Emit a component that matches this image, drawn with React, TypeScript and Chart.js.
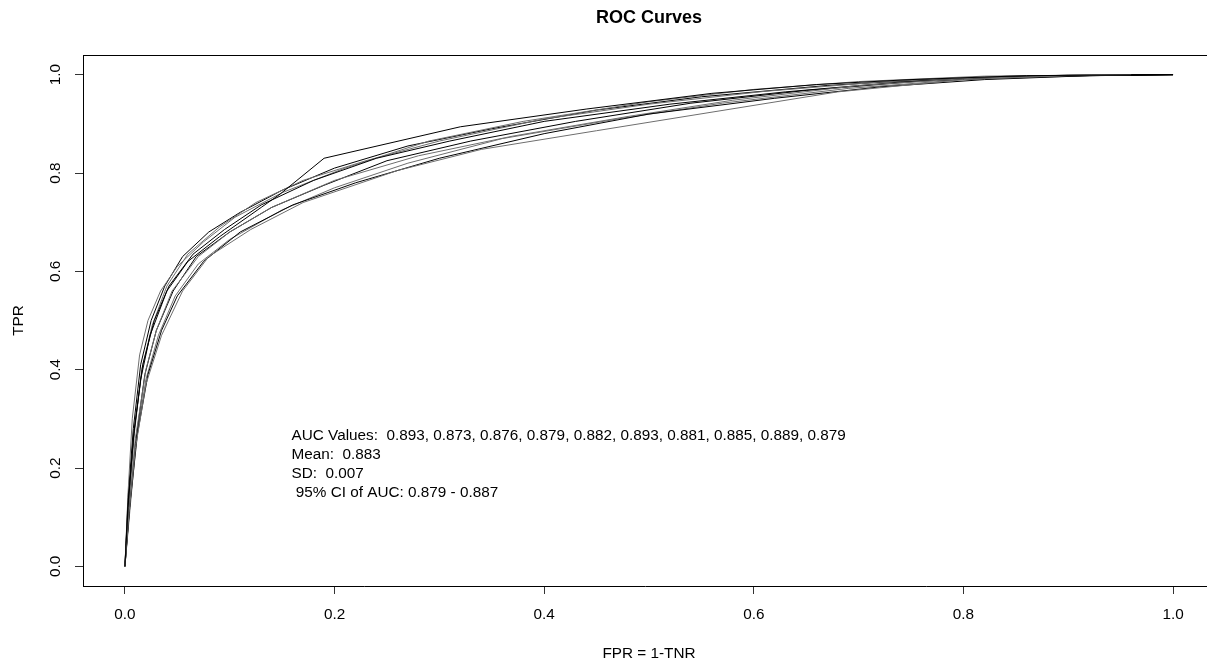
import React, { useEffect, useRef } from "react";
import { Chart, registerables } from "chart.js";

Chart.register(...registerables);

// ROC curves from ten resampling runs: false positive rate / true positive rate
const FPR_1 = [0, 0.003, 0.008, 0.015, 0.024, 0.04, 0.06, 0.09, 0.13, 0.148, 0.19, 0.32, 0.44, 0.56, 0.66, 0.75, 0.86, 1];
const TPR_1 = [0, 0.12, 0.26, 0.38, 0.47, 0.56, 0.62, 0.67, 0.73, 0.757, 0.83, 0.894, 0.93, 0.962, 0.98, 0.99, 0.998, 1];

const FPR_2 = [0, 0.004, 0.01, 0.02, 0.035, 0.055, 0.08, 0.12, 0.17, 0.26, 0.34, 0.45, 0.68, 0.8, 0.9, 0.96];
const TPR_2 = [0, 0.11, 0.24, 0.37, 0.47, 0.56, 0.63, 0.685, 0.74, 0.805, 0.848, 0.886, 0.965, 0.99, 0.998, 1];

const FPR_3 = [0, 0.005, 0.012, 0.022, 0.035, 0.05, 0.075, 0.11, 0.16, 0.22, 0.3, 0.4, 0.5, 0.62, 0.72, 0.82, 0.92, 1];
const TPR_3 = [0, 0.13, 0.27, 0.39, 0.48, 0.55, 0.62, 0.68, 0.735, 0.78, 0.83, 0.88, 0.92, 0.952, 0.975, 0.99, 0.998, 1];

const FPR_4 = [0, 0.004, 0.01, 0.02, 0.03, 0.045, 0.07, 0.1, 0.14, 0.2, 0.28, 0.37, 0.48, 0.58, 0.7, 0.81, 0.96];
const TPR_4 = [0, 0.12, 0.26, 0.4, 0.48, 0.56, 0.63, 0.68, 0.73, 0.785, 0.835, 0.875, 0.915, 0.948, 0.978, 0.993, 1];

const FPR_5 = [0, 0.003, 0.009, 0.017, 0.028, 0.042, 0.065, 0.095, 0.13, 0.18, 0.24, 0.31, 0.4, 0.52, 0.63, 0.74, 0.85, 1];
const TPR_5 = [0, 0.13, 0.28, 0.41, 0.5, 0.57, 0.635, 0.685, 0.735, 0.785, 0.83, 0.865, 0.905, 0.94, 0.965, 0.985, 0.996, 1];

const FPR_6 = [0, 0.003, 0.007, 0.014, 0.022, 0.034, 0.05, 0.075, 0.105, 0.15, 0.21, 0.29, 0.38, 0.5, 0.6, 0.7, 0.82, 0.96];
const TPR_6 = [0, 0.15, 0.3, 0.43, 0.5, 0.56, 0.61, 0.66, 0.71, 0.76, 0.81, 0.865, 0.905, 0.945, 0.97, 0.986, 0.997, 1];

const FPR_7 = [0, 0.004, 0.01, 0.019, 0.03, 0.046, 0.068, 0.1, 0.14, 0.19, 0.25, 0.33, 0.43, 0.54, 0.65, 0.76, 0.88, 1];
const TPR_7 = [0, 0.11, 0.25, 0.39, 0.48, 0.56, 0.63, 0.68, 0.73, 0.775, 0.825, 0.865, 0.905, 0.942, 0.968, 0.987, 0.998, 1];

const FPR_8 = [0, 0.004, 0.009, 0.016, 0.026, 0.04, 0.06, 0.09, 0.125, 0.17, 0.23, 0.3, 0.4, 0.5, 0.61, 0.72, 0.84, 0.96];
const TPR_8 = [0, 0.13, 0.27, 0.4, 0.49, 0.57, 0.635, 0.69, 0.74, 0.785, 0.825, 0.865, 0.91, 0.94, 0.966, 0.985, 0.997, 1];

const FPR_9 = [0, 0.003, 0.008, 0.015, 0.025, 0.038, 0.055, 0.08, 0.11, 0.15, 0.2, 0.27, 0.35, 0.45, 0.55, 0.67, 0.78, 0.9, 1];
const TPR_9 = [0, 0.14, 0.28, 0.41, 0.5, 0.57, 0.63, 0.68, 0.72, 0.765, 0.81, 0.855, 0.89, 0.928, 0.955, 0.978, 0.992, 0.999, 1];

const FPR_10 = [0, 0.005, 0.011, 0.02, 0.032, 0.048, 0.07, 0.1, 0.15, 0.2, 0.27, 0.36, 0.47, 0.57, 0.69, 0.8, 0.92, 1];
const TPR_10 = [0, 0.12, 0.26, 0.38, 0.47, 0.55, 0.615, 0.665, 0.725, 0.77, 0.82, 0.87, 0.91, 0.942, 0.972, 0.99, 0.998, 1];

const CURVES: [number[], number[]][] = [
  [FPR_1, TPR_1], [FPR_2, TPR_2], [FPR_3, TPR_3], [FPR_4, TPR_4], [FPR_5, TPR_5],
  [FPR_6, TPR_6], [FPR_7, TPR_7], [FPR_8, TPR_8], [FPR_9, TPR_9], [FPR_10, TPR_10],
];

// summary statistics printed inside the plot
const AUC_VALUES = [0.893, 0.873, 0.876, 0.879, 0.882, 0.893, 0.881, 0.885, 0.889, 0.879];
const AUC_MEAN = 0.883;
const AUC_SD = 0.007;
const AUC_CI = [0.879, 0.887];

const AXIS_TICKS = [0, 0.2, 0.4, 0.6, 0.8, 1.0];

const TITLE = "ROC Curves";
const X_TITLE = "FPR = 1-TNR";
const Y_TITLE = "TPR";

const FONT = '"Liberation Sans", Arial, sans-serif';
const BASE_SIZE = 15.3;
const LINE_COLORS = ["#000000", "#6e6e6e"];

// R-style decorations: box top, title, axis titles, rotated y labels and the text block
const decorations = {
  id: "rDecorations",
  afterDraw(chart: any) {
    const { ctx, chartArea } = chart;
    const xs = chart.scales.x;
    const ys = chart.scales.y;
    ctx.save();

    ctx.strokeStyle = "#000";
    ctx.lineWidth = 1;
    ctx.beginPath();
    ctx.moveTo(chartArea.left, Math.round(chartArea.top) + 0.5);
    ctx.lineTo(chartArea.right, Math.round(chartArea.top) + 0.5);
    ctx.stroke();

    const boxLeft = xs.getPixelForValue(-0.04);
    const boxRight = xs.getPixelForValue(1.04);
    const cx = (boxLeft + boxRight) / 2;

    ctx.fillStyle = "#000";
    ctx.textAlign = "center";
    ctx.textBaseline = "middle";
    ctx.font = `bold 18px ${FONT}`;
    ctx.fillText(TITLE, cx, 18.5);

    ctx.font = `${BASE_SIZE}px ${FONT}`;
    ctx.fillText(X_TITLE, cx, 653.5);

    ctx.save();
    ctx.translate(19, (chartArea.top + chartArea.bottom) / 2);
    ctx.rotate(-Math.PI / 2);
    ctx.fillText(Y_TITLE, 0, 0);
    ctx.restore();

    for (const v of AXIS_TICKS) {
      ctx.save();
      ctx.translate(56, ys.getPixelForValue(v));
      ctx.rotate(-Math.PI / 2);
      ctx.fillText(v.toFixed(1), 0, 0);
      ctx.restore();
    }

    const lines = [
      "AUC Values:  " + AUC_VALUES.map((v) => v.toFixed(3)).join(", "),
      "Mean:  " + AUC_MEAN.toFixed(3),
      "SD:  " + AUC_SD.toFixed(3),
      " 95% CI of AUC: " + AUC_CI[0].toFixed(3) + " - " + AUC_CI[1].toFixed(3),
    ];
    const tx = xs.getPixelForValue(0.159);
    const ty = ys.getPixelForValue(0.208);
    const lh = 19.1;
    ctx.textAlign = "left";
    ctx.textBaseline = "middle";
    lines.forEach((s, i) => {
      ctx.fillText(s, tx, ty + (i - (lines.length - 1) / 2) * lh);
    });

    ctx.restore();
  },
};

export default function App() {
  const canvasRef = useRef<HTMLCanvasElement | null>(null);

  useEffect(() => {
    if (!canvasRef.current) return;
    const chart = new Chart(canvasRef.current, {
      type: "line",
      data: {
        datasets: CURVES.map(([fpr, tpr], i) => ({
          label: `run ${i + 1}`,
          data: fpr.map((x, j) => ({ x, y: tpr[j] })),
          borderColor: LINE_COLORS[i % 2],
          borderWidth: 1,
          pointRadius: 0,
          fill: false,
          tension: 0,
        })),
      },
      options: {
        responsive: false,
        animation: false,
        events: [],
        layout: { padding: { top: 55, left: 0, right: 0, bottom: 0 } },
        plugins: { legend: { display: false }, title: { display: false }, tooltip: { enabled: false } },
        scales: {
          x: {
            type: "linear",
            min: -0.04,
            max: 1.0324,
            afterBuildTicks: (s: any) => {
              s.ticks = AXIS_TICKS.map((value) => ({ value }));
            },
            afterFit: (s: any) => {
              s.height = 77;
              s.paddingLeft = 0;
              s.paddingRight = 0;
            },
            ticks: {
              autoSkip: false,
              maxRotation: 0,
              minRotation: 0,
              padding: 12,
              color: "#000",
              font: { family: FONT, size: BASE_SIZE },
              callback: (v: any) => Number(v).toFixed(1),
            },
            grid: { display: true, drawOnChartArea: false, drawTicks: true, tickLength: 8, color: "#333" },
            border: { display: true, color: "#000", width: 1 },
          },
          y: {
            type: "linear",
            min: -0.04,
            max: 1.04,
            afterBuildTicks: (s: any) => {
              s.ticks = AXIS_TICKS.map((value) => ({ value }));
            },
            afterFit: (s: any) => {
              s.width = 83;
              s.paddingTop = 0;
              s.paddingBottom = 0;
            },
            ticks: { display: false },
            grid: { display: true, drawOnChartArea: false, drawTicks: true, tickLength: 8, color: "#333" },
            border: { display: true, color: "#000", width: 1 },
          },
        },
      },
      plugins: [decorations],
    });
    return () => chart.destroy();
  }, []);

  return (
    <div style={{ position: "fixed", left: 0, top: 0, width: 1207, height: 663, background: "#fff" }}>
      <canvas ref={canvasRef} width={1207} height={663} style={{ display: "block" }} />
    </div>
  );
}
